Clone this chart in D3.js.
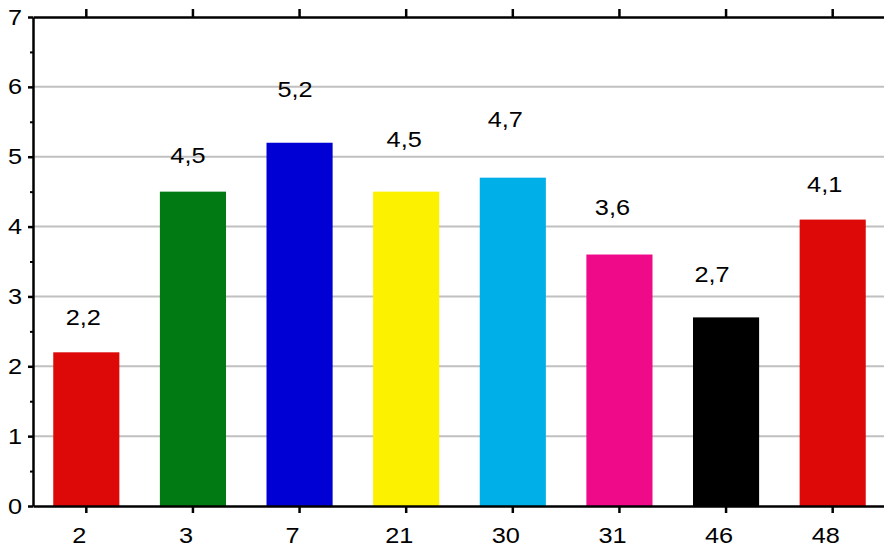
<!DOCTYPE html>
<html>
<head>
<meta charset="utf-8">
<script src="https://cdn.jsdelivr.net/npm/d3@7"></script>
<style>
  html, body { margin: 0; padding: 0; background: #fff; }
  svg { display: block; font-family: "Liberation Sans", Arial, sans-serif; }
</style>
</head>
<body>
<svg id="chart" width="884" height="548"></svg>
<script>
// Categories along the x axis and the value of each bar
const categories = ["2", "3", "7", "21", "30", "31", "46", "48"];
const values = [2.2, 4.5, 5.2, 4.5, 4.7, 3.6, 2.7, 4.1];
const valueLabels = ["2,2", "4,5", "5,2", "4,5", "4,7", "3,6", "2,7", "4,1"];
const barColors = ["#dd0808", "#027a14", "#0000d4", "#fcf200", "#00aee8", "#ef0a8a", "#000000", "#dd0808"];
const yTicks = [0, 1, 2, 3, 4, 5, 6, 7];
const yMinorTicks = [0.5, 1.5, 2.5, 3.5, 4.5, 5.5, 6.5];

// Hand-placed offsets of the value labels (px from the bar's top centre)
const labelDx = [-3, -5, -4.5, -2, -7.5, -7, -14, -8];
const labelDy = [-27, -29, -46, -45, -51, -40, -35, -28];

// Text is drawn slightly widened
const textStretch = 1.15;
const fontSize = 22;

const svg = d3.select("#chart");
const plotLeft = 33, plotRight = 886, plotTop = 17, plotBottom = 506;

const x = d3.scaleBand()
  .domain(categories)
  .range([plotLeft, plotRight])
  .paddingInner(0.38)
  .paddingOuter(0.19);

const y = d3.scaleLinear().domain([0, 7]).range([plotBottom, plotTop]);

// Horizontal gridlines
svg.append("g")
  .selectAll("line")
  .data(yTicks.filter(v => v > 0 && v < 7))
  .join("line")
  .attr("x1", plotLeft).attr("x2", 884)
  .attr("y1", d => y(d)).attr("y2", d => y(d))
  .attr("stroke", "#c0c0c0")
  .attr("stroke-width", 2);

// Bars
svg.append("g")
  .selectAll("rect")
  .data(categories)
  .join("rect")
  .attr("x", d => x(d))
  .attr("width", x.bandwidth())
  .attr("y", (d, i) => y(values[i]))
  .attr("height", (d, i) => y(0) - y(values[i]))
  .attr("fill", (d, i) => barColors[i]);

// Value labels above bars
svg.append("g")
  .selectAll("text")
  .data(categories)
  .join("text")
  .attr("transform", (d, i) =>
    `translate(${x(d) + x.bandwidth() / 2 + labelDx[i]},${y(values[i]) + labelDy[i]}) scale(${textStretch},1)`)
  .attr("text-anchor", "middle")
  .attr("font-size", fontSize)
  .attr("fill", "#000")
  .text((d, i) => valueLabels[i]);

// Bottom axis
const xAxisBottom = svg.append("g")
  .attr("transform", `translate(0,${plotBottom})`)
  .call(d3.axisBottom(x).tickSize(7).tickSizeOuter(0));
xAxisBottom.attr("font-size", fontSize).attr("font-family", "Liberation Sans, Arial, sans-serif");
xAxisBottom.select(".domain").attr("stroke-width", 2.5);
xAxisBottom.selectAll(".tick line").attr("stroke-width", 2.5);
xAxisBottom.selectAll(".tick text")
  .attr("x", null).attr("y", null).attr("dy", null)
  .attr("transform", `translate(-7,37) scale(${textStretch},1)`)
  .attr("fill", "#000");

// Top axis (ticks only)
const xAxisTop = svg.append("g")
  .attr("transform", `translate(0,${plotTop})`)
  .call(d3.axisTop(x).tickSize(8).tickSizeOuter(0).tickFormat(""));
xAxisTop.select(".domain").attr("stroke-width", 2.5);
xAxisTop.selectAll(".tick line").attr("stroke-width", 2.5);

// Left axis, minor ticks
const yMinor = svg.append("g")
  .attr("transform", `translate(${plotLeft},0)`)
  .call(d3.axisLeft(y).tickValues(yMinorTicks).tickSize(3).tickFormat(""));
yMinor.select(".domain").remove();
yMinor.selectAll(".tick line").attr("stroke-width", 2);

// Left axis, major ticks and labels
const yAxis = svg.append("g")
  .attr("transform", `translate(${plotLeft},0)`)
  .call(d3.axisLeft(y).tickValues(yTicks).tickFormat(d3.format("d"))
    .tickSize(5).tickSizeOuter(0));
yAxis.attr("font-size", fontSize).attr("font-family", "Liberation Sans, Arial, sans-serif");
yAxis.select(".domain").attr("stroke-width", 2.5);
yAxis.selectAll(".tick line").attr("stroke-width", 2.5);
yAxis.selectAll(".tick text")
  .attr("x", -9.5)
  .attr("transform", `scale(${textStretch},1)`)
  .attr("fill", "#000");
</script>
</body>
</html>
